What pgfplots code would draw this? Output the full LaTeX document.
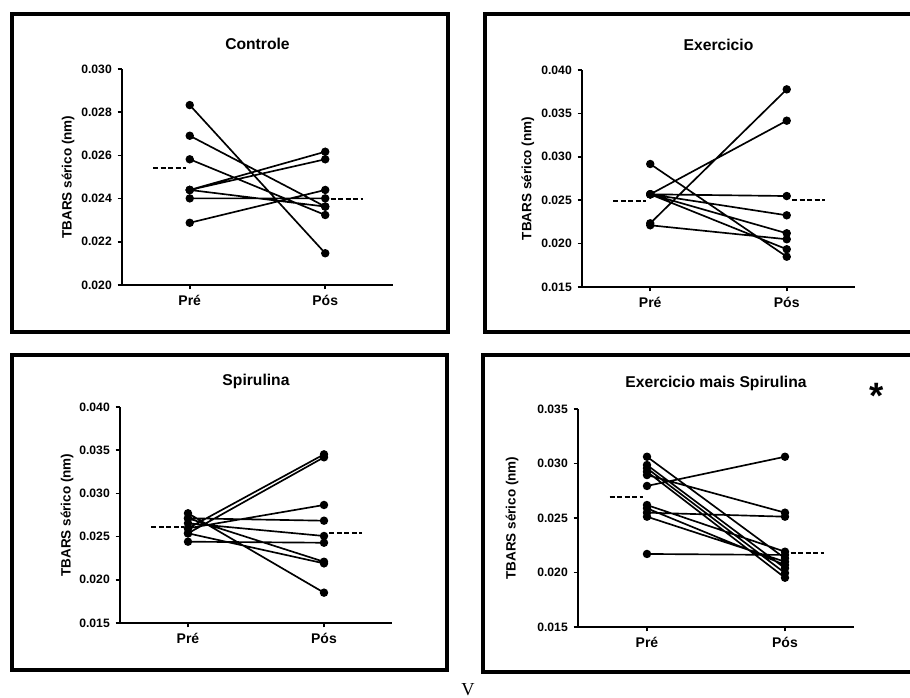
\documentclass[border=0pt]{standalone}
\usepackage{fontspec}
\setmainfont{Liberation Sans}
\newfontfamily\seriffont{Liberation Serif}
\usepackage{pgfplots}
\usepackage{pgfplotstable}
\pgfplotsset{compat=1.18}

% pairs Pre/Pos, one subject per two rows, nan row breaks the line
\pgfplotstableread{
g v
0 0.02833
1 0.02147
0.5 nan
0 0.02691
1 0.02363
0.5 nan
0 0.02582
1 0.02324
0.5 nan
0 0.02440
1 0.02617
0.5 nan
0 0.02440
1 0.02582
0.5 nan
0 0.02440
1 0.02363
0.5 nan
0 0.02401
1 0.02401
0.5 nan
0 0.02288
1 0.02440
}\controle

\pgfplotstableread{
g v
0 0.02917
1 0.01849
0.5 nan
0 0.02234
1 0.03777
0.5 nan
0 0.02568
1 0.03416
0.5 nan
0 0.02568
1 0.02548
0.5 nan
0 0.02568
1 0.02326
0.5 nan
0 0.02568
1 0.02119
0.5 nan
0 0.02568
1 0.01935
0.5 nan
0 0.02211
1 0.02050
}\exercicio

\pgfplotstableread{
g v
0 0.02770
1 0.01851
0.5 nan
0 0.02712
1 0.02209
0.5 nan
0 0.02654
1 0.02507
0.5 nan
0 0.02712
1 0.02684
0.5 nan
0 0.02596
1 0.02866
0.5 nan
0 0.02596
1 0.03452
0.5 nan
0 0.02538
1 0.03418
0.5 nan
0 0.02441
1 0.02429
0.5 nan
0 0.02538
1 0.02190
}\spirulina

\pgfplotstableread{
g v
0 0.02794
1 0.03062
0.5 nan
0 0.02894
1 0.02549
0.5 nan
0 0.02549
1 0.02512
0.5 nan
0 0.02170
1 0.02161
0.5 nan
0 0.03062
1 0.02130
0.5 nan
0 0.02986
1 0.02039
0.5 nan
0 0.02956
1 0.01995
0.5 nan
0 0.02925
1 0.01952
0.5 nan
0 0.02619
1 0.02191
0.5 nan
0 0.02589
1 0.02069
0.5 nan
0 0.02512
1 0.02099
}\exmais

\pgfplotsset{
  panel/.style={
    scale only axis,
    axis lines=left,
    axis line style={-, line width=1pt},
    xmin=-0.5, xmax=1.5,
    xtick={0,1}, xticklabels={Pré,Pós},
    tick align=outside,
    major tick length=2.6pt,
    tick style={line width=1pt, black},
    scaled y ticks=false,
    yticklabel style={font=\bfseries\fontsize{7.3}{8}\selectfont,
      /pgf/number format/fixed, /pgf/number format/fixed zerofill,
      /pgf/number format/precision=3, /pgf/number format/assume math mode=true},
    xticklabel style={font=\bfseries\fontsize{8.4}{10}\selectfont},
    title style={font=\bfseries\fontsize{9.4}{11}\selectfont, at={(axis description cs:0.5,1.07)}, anchor=center},
    ylabel={TBARS sérico (nm)},
    unbounded coords=jump,
    clip=false,
  },
  pair/.style={black, line width=1pt, mark=*, mark size=2pt, mark options={solid, fill=black}},
  media/.style={black, line width=1.3pt, dash pattern=on 3pt off 1.5pt, forget plot},
}

\begin{document}
\begin{tikzpicture}[x=0.6pt, y=0.6pt]
\useasboundingbox (0,0) rectangle (910,698);
\clip (0,0) rectangle (910,698);

% moldura dos paineis
\draw[line width=2pt] (12,684) rectangle (448,366);
\draw[line width=2pt] (485,684) rectangle (920,366);
\draw[line width=2pt] (12,343) rectangle (447,28);
\draw[line width=2pt] (483,343) rectangle (920,26);

\begin{axis}[panel, at={(73.2pt,247.8pt)}, width=162.6pt, height=129.6pt,
  ymin=0.020, ymax=0.030, ytick={0.020,0.022,0.024,0.026,0.028,0.030},
  title={Controle},
  ylabel style={at={(axis description cs:-0.199,0.5)}, anchor=center, font=\bfseries\fontsize{8.1}{10}\selectfont}]
\addplot[pair] table[x=g, y=v] {\controle};
\addplot[media] coordinates {(-0.27,0.02543) (-0.03,0.02543)};
\addplot[media] coordinates {(1.04,0.02398) (1.28,0.02398)};
\end{axis}

\begin{axis}[panel, at={(349.2pt,246.6pt)}, width=163.8pt, height=130.2pt,
  ymin=0.015, ymax=0.040, ytick={0.015,0.020,0.025,0.030,0.035,0.040},
  title={Exercicio},
  ylabel style={at={(axis description cs:-0.198,0.5)}, anchor=center, font=\bfseries\fontsize{8.1}{10}\selectfont}]
\addplot[pair] table[x=g, y=v] {\exercicio};
\addplot[media] coordinates {(-0.27,0.02494) (-0.03,0.02494)};
\addplot[media] coordinates {(1.04,0.02502) (1.28,0.02502)};
\end{axis}

\begin{axis}[panel, at={(72pt,45pt)}, width=163.2pt, height=129.6pt,
  ymin=0.015, ymax=0.040, ytick={0.015,0.020,0.025,0.030,0.035,0.040},
  title={Spirulina},
  ylabel style={at={(axis description cs:-0.195,0.5)}, anchor=center, font=\bfseries\fontsize{8.1}{10}\selectfont}]
\addplot[pair] table[x=g, y=v] {\spirulina};
\addplot[media] coordinates {(-0.27,0.02611) (-0.03,0.02611)};
\addplot[media] coordinates {(1.04,0.02545) (1.28,0.02545)};
\end{axis}

\begin{axis}[panel, at={(346.8pt,42.6pt)}, width=165.6pt, height=130.8pt,
  ymin=0.015, ymax=0.035, ytick={0.015,0.020,0.025,0.030,0.035},
  title={Exercicio mais Spirulina},
  ylabel style={at={(axis description cs:-0.239,0.5)}, anchor=center, font=\bfseries\fontsize{8.1}{10}\selectfont}]
\addplot[pair] table[x=g, y=v] {\exmais};
\addplot[media] coordinates {(-0.27,0.02696) (-0.03,0.02696)};
\addplot[media] coordinates {(1.04,0.02182) (1.28,0.02182)};
\end{axis}

\node[anchor=north, inner sep=0pt, font=\bfseries\fontsize{22}{22}\selectfont] at (877,315) {*};
\node[anchor=south, inner sep=0pt, font=\seriffont\fontsize{11}{11}\selectfont] at (468,2) {V};
\end{tikzpicture}
\end{document}
